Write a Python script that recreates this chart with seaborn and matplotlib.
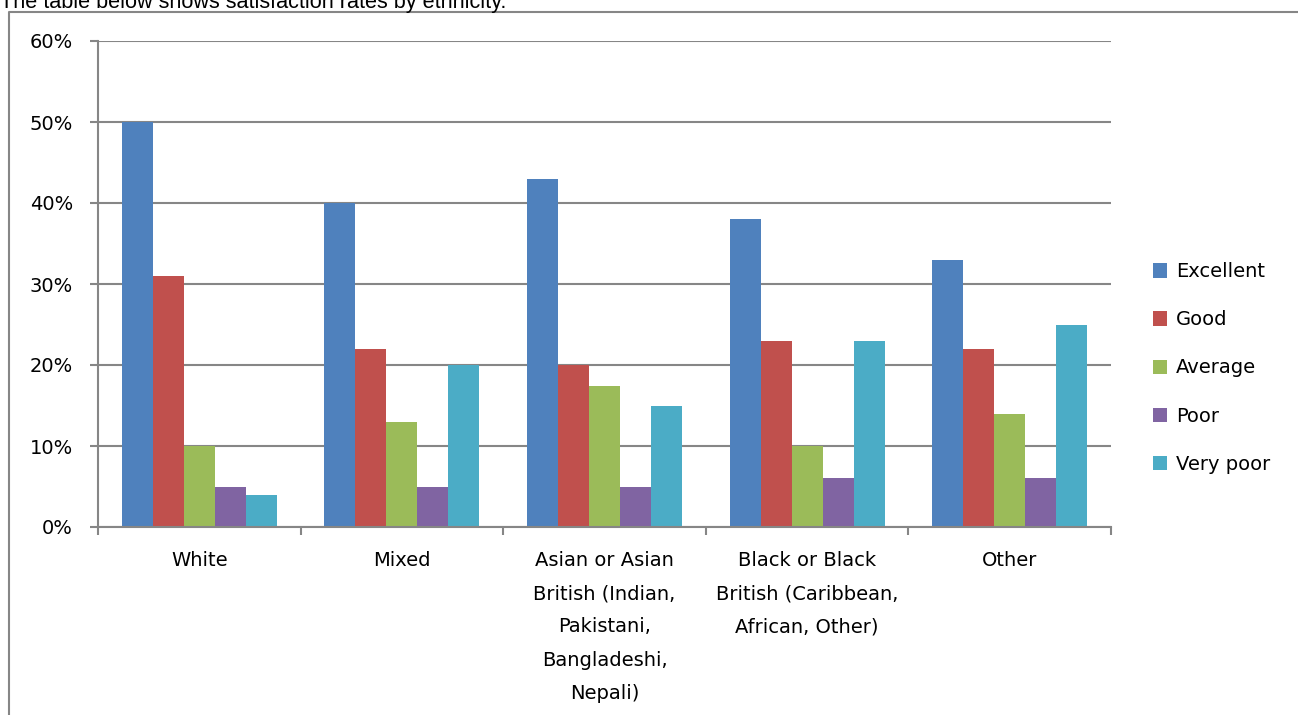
import pandas as pd
import matplotlib.pyplot as plt
import seaborn as sns
from matplotlib.lines import Line2D
from matplotlib.ticker import FixedLocator, PercentFormatter

groups = ["White", "Mixed",
          "Asian or Asian\nBritish (Indian,\nPakistani,\nBangladeshi,\nNepali)",
          "Black or Black\nBritish (Caribbean,\nAfrican, Other)", "Other"]
ratings = ["Excellent", "Good", "Average", "Poor", "Very poor"]
excellent = [50, 40, 43, 38, 33]
good = [31, 22, 20, 23, 22]
average = [10, 13, 17.4, 10, 14]
poor = [5, 5, 5, 6, 6]
very_poor = [4, 20, 15, 23, 25]
colors = ["#4F81BD", "#C0504D", "#9BBB59", "#8064A2", "#4BACC6"]

rows = []
for name, vals in zip(ratings, [excellent, good, average, poor, very_poor]):
    for g, v in zip(groups, vals):
        rows.append({"group": g, "rating": name, "value": v})
df = pd.DataFrame(rows)

sns.set_style("white")
plt.rcParams['font.family'] = ['DejaVu Sans']
plt.rcParams['text.color'] = 'black'
plt.rcParams['xtick.color'] = 'black'
plt.rcParams['ytick.color'] = 'black'

fig = plt.figure(figsize=(12.98, 7.15), dpi=100)
ax = fig.add_axes([98 / 1298, 1 - 527 / 715, (1111 - 98) / 1298, (527 - 41) / 715])

sns.barplot(data=df, x="group", y="value", hue="rating", palette=colors,
            width=0.765, gap=0, ax=ax, saturation=1, linewidth=0, legend=True)

grid_c = "#868686"
fs = 14
ax.set_ylim(0, 60)
ax.set_xlim(-0.5, 4.5)
ax.yaxis.set_major_formatter(PercentFormatter(decimals=0))
ax.set_yticks(range(0, 61, 10))
ax.grid(axis="y", color=grid_c, linewidth=1.5)
ax.set_axisbelow(True)
for s in ["top", "right"]:
    ax.spines[s].set_visible(False)
for s in ["left", "bottom"]:
    ax.spines[s].set_color(grid_c)
    ax.spines[s].set_linewidth(1.5)
ax.set_xlabel("")
ax.set_ylabel("")
ax.tick_params(axis="y", length=6, width=1.5, color=grid_c, labelcolor="black",
               pad=12, labelsize=fs, left=True)
ax.tick_params(axis="x", which="major", length=0, pad=17, labelsize=fs, labelcolor="black")
ax.xaxis.set_minor_locator(FixedLocator([-0.5, 0.5, 1.5, 2.5, 3.5, 4.5]))
ax.tick_params(axis="x", which="minor", length=6, width=1.5, color=grid_c, bottom=True)
for lbl in ax.get_xticklabels():
    lbl.set_linespacing(1.96)

handles, labels = ax.get_legend_handles_labels()
leg = ax.legend(handles, labels, loc="center left", bbox_to_anchor=(1135 / 1298, 1 - 368 / 715),
                bbox_transform=fig.transFigure, frameon=False, fontsize=fs,
                handlelength=0.75, handleheight=0.75, handletextpad=0.45, labelspacing=1.5)
for t in leg.get_texts():
    t.set_color("black")

# chart border and clipped caption above it
fig.add_artist(Line2D([9 / 1298, 9 / 1298, 1], [0, 1 - 12 / 715, 1 - 12 / 715],
                      transform=fig.transFigure, color=grid_c, linewidth=1.5))
fig.text(0, 1 - 8 / 715, "The table below shows satisfaction rates by ethnicity.",
         fontsize=15.6, va="baseline", ha="left", family=["Liberation Sans"])

fig.savefig("out.png", dpi=100)
